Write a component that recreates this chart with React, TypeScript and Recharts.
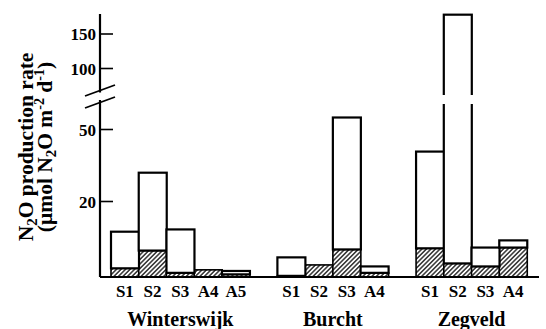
import React from 'react';
import { BarChart, Bar, XAxis, YAxis } from 'recharts';

// ---- data (µmol N2O m-2 d-1) ----
const sites = ['Winterswijk', 'Burcht', 'Zegveld'];
const plotCodes = [
  ['S1', 'S2', 'S3', 'A4', 'A5'],
  ['S1', 'S2', 'S3', 'A4'],
  ['S1', 'S2', 'S3', 'A4'],
];
const totalRate = [
  [12.0, 32.0, 12.6, 1.9, 1.6],
  [5.2, 3.2, 55.0, 2.8],
  [40.8, 178, 7.8, 9.7],
];
const hatchedRate = [
  [2.3, 7.0, 1.1, 1.9, 0.7],
  [0.3, 3.2, 7.3, 1.1],
  [7.6, 3.6, 2.8, 7.8],
];
const yTickValues = [20, 50, 100, 150];

// broken / compressed axis: value -> display units
const scaleNodes: [number, number][] = [
  [0, 0], [20, 75.5], [50, 147.5], [60, 171.5], [73.5, 190], [100, 208.5], [150, 243], [200, 277.5],
];
const toDisplay = (v: number) => {
  for (let i = 1; i < scaleNodes.length; i++) {
    const [v0, d0] = scaleNodes[i - 1];
    const [v1, d1] = scaleNodes[i];
    if (v <= v1) return d0 + ((v - v0) * (d1 - d0)) / (v1 - v0);
  }
  const [v0, d0] = scaleNodes[scaleNodes.length - 2];
  const [v1, d1] = scaleNodes[scaleNodes.length - 1];
  return d0 + ((v - v0) * (d1 - d0)) / (v1 - v0);
};
const BREAK_D = 180.5;
const BREAK_GAP: [number, number] = [173, 182];
const Y_MAX_D = 263;

type Row = {
  id: string; code: string; site: string; pos: number; size: number;
  hatchD: number; restD: number;
};
const rows: Row[] = [];
sites.forEach((site, si) => {
  if (si > 0) rows.push({ id: `gap${si}`, code: '', site: '', pos: -1, size: 0, hatchD: 0, restD: 0 });
  plotCodes[si].forEach((code, ci) => {
    const h = toDisplay(hatchedRate[si][ci]);
    const t = toDisplay(totalRate[si][ci]);
    rows.push({ id: `${site}-${code}`, code, site, pos: ci, size: plotCodes[si].length, hatchD: h, restD: Math.max(0, t - h) });
  });
});
const rowById = new Map(rows.map((r) => [r.id, r]));

const FONT = 'Liberation Serif';
const txt = { fontFamily: FONT, fontWeight: 700 as const };

const HatchShape = (p: any) => {
  const { x, y, width, height } = p;
  if (!(height > 0.3)) return null;
  return <rect x={x} y={y} width={width} height={height} fill="url(#hatch)" stroke="#000" strokeWidth={1.6} />;
};

const RestShape = (p: any) => {
  const { x, y, width, height, payload } = p;
  if (!(height > 0.3) || !payload || !(payload.restD > 0)) return null;
  const ppu = height / payload.restD;
  const baseY = y + height + payload.hatchD * ppu;
  const topD = payload.hatchD + payload.restD;
  let gap = null;
  if (topD > BREAK_GAP[1]) {
    const g1 = baseY - BREAK_GAP[1] * ppu;
    const g0 = baseY - BREAK_GAP[0] * ppu;
    gap = <rect x={x - 3} y={g1} width={width + 6} height={g0 - g1} fill="#fff" />;
  }
  return (
    <g>
      <rect x={x} y={y} width={width} height={height} fill="#fff" stroke="#000" strokeWidth={2.2} />
      {gap}
    </g>
  );
};

const yLabelMap = new Map(yTickValues.map((v) => [toDisplay(v), String(v)]));
const yTicks = [...yTickValues.map(toDisplay), BREAK_D];

const YTick = (p: any) => {
  const { x, y, payload } = p;
  if (payload.value === BREAK_D) {
    return (
      <g>
        <rect x={x - 3} y={y - 4} width={6} height={7.5} fill="#fff" />
        <line x1={x - 15} y1={y - 0.5} x2={x + 15} y2={y - 11.5} stroke="#000" strokeWidth={1.8} />
        <line x1={x - 15} y1={y + 11.5} x2={x + 15} y2={y + 0.5} stroke="#000" strokeWidth={1.8} />
      </g>
    );
  }
  return (
    <g>
      <line x1={x} x2={x + 13} y1={y} y2={y} stroke="#000" strokeWidth={1.6} />
      <text x={x - 4} y={y + 6} textAnchor="end" style={txt} fontSize={17} fill="#000">
        {yLabelMap.get(payload.value)}
      </text>
    </g>
  );
};

const XTick = (p: any) => {
  const { x, y, payload } = p;
  const row = rowById.get(payload.value);
  if (!row || !row.code) return null;
  const half = payload.offset || 0;
  const mid = Math.floor((row.size - 1) / 2);
  const showGroup = row.pos === mid;
  const gx = x + ((row.size - 1) / 2 - row.pos) * 2 * half;
  return (
    <g fill="#000">
      <text x={x} y={y + 20} textAnchor="middle" fontSize={17} style={txt}>{row.code}</text>
      {showGroup && (
        <text x={gx} y={y + 49} textAnchor="middle" fontSize={20} style={txt}>{row.site}</text>
      )}
    </g>
  );
};

const YTitle = () => (
  <g fill="#000">
    <text transform="translate(33,147) rotate(-90)" textAnchor="middle" fontSize={21.5} style={txt}>
      N<tspan fontSize={15} dy={4}>2</tspan><tspan dy={-4}>O production rate</tspan>
    </text>
    <text transform="translate(52,147) rotate(-90)" textAnchor="middle" fontSize={21.5} style={txt}>
      (μmol N<tspan fontSize={15} dy={4}>2</tspan><tspan dy={-4}>O m</tspan>
      <tspan fontSize={14} dy={-8}>-2</tspan><tspan dy={8}> d</tspan>
      <tspan fontSize={14} dy={-8}>-1</tspan><tspan dy={8}>)</tspan>
    </text>
  </g>
);

export default function App() {
  return (
    <div style={{ position: 'absolute', left: 0, top: 0, width: 546, height: 329, background: '#fff', fontFamily: FONT }}>
      <svg width={0} height={0} style={{ position: 'absolute' }}>
        <defs>
          <pattern id="hatch" width={3.2} height={3.2} patternUnits="userSpaceOnUse" patternTransform="rotate(45)">
            <rect width={3.2} height={3.2} fill="#fff" />
            <line x1={0.8} y1={0} x2={0.8} y2={3.2} stroke="#000" strokeWidth={1.2} />
          </pattern>
        </defs>
      </svg>
      <BarChart
        width={546}
        height={329}
        data={rows}
        margin={{ top: 14, right: 7, bottom: 0, left: 0 }}
        barCategoryGap={0}
        barGap={0}
      >
        <XAxis
          dataKey="id"
          type="category"
          interval={0}
          height={52}
          padding={{ left: 11, right: 12 }}
          tickLine={false}
          tickSize={0}
          tickMargin={0}
          axisLine={{ stroke: '#000', strokeWidth: 2.2 }}
          tick={<XTick />}
        />
        <YAxis
          type="number"
          width={100}
          domain={[0, Y_MAX_D]}
          ticks={yTicks}
          interval={0}
          tickLine={false}
          tickSize={0}
          tickMargin={0}
          axisLine={{ stroke: '#000', strokeWidth: 2.2 }}
          tick={<YTick />}
          label={<YTitle />}
        />
        <Bar dataKey="hatchD" stackId="a" isAnimationActive={false} shape={<HatchShape />} />
        <Bar dataKey="restD" stackId="a" isAnimationActive={false} shape={<RestShape />} />
      </BarChart>
    </div>
  );
}
